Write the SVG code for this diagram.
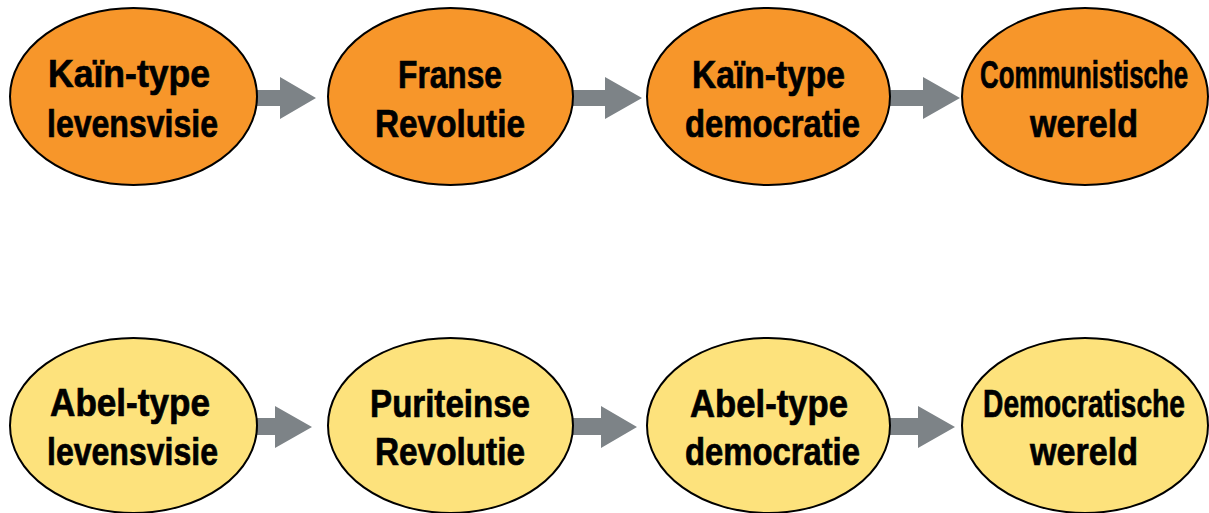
<svg xmlns="http://www.w3.org/2000/svg" width="1209" height="513" viewBox="0 0 1209 513">
<style>
.top{fill:#F7962A;stroke:#000;stroke-width:2}
.bot{fill:#FDE27C;stroke:#000;stroke-width:2}
.arr{fill:#7D8387}
text{font-family:"Liberation Sans",Arial,sans-serif;font-weight:bold;font-size:39px;fill:#000;stroke:#000;stroke-width:0.7;text-anchor:middle}
</style>
<rect width="1209" height="513" fill="#fff"/>
<g id="connectors">
<polygon class="arr" points="245,90 280,90 280,77 316,98 280,119 280,106 245,106"/>
<polygon class="arr" points="565,90 605,90 605,77 642,98 605,119 605,106 565,106"/>
<polygon class="arr" points="882,90 923,90 923,77 960,98 923,119 923,106 882,106"/>
<polygon class="arr" points="245,418 275,418 275,406 312,427 275,448 275,435 245,435"/>
<polygon class="arr" points="565,418 601,418 601,406 637,427 601,448 601,435 565,435"/>
<polygon class="arr" points="882,418 918,418 918,406 955,427 918,448 918,435 882,435"/>
</g>
<g id="n1"><ellipse class="top" cx="133.5" cy="96.5" rx="123.5" ry="88.5"/><text transform="translate(129,87) scale(0.912,1)">Kaïn-type</text><text transform="translate(132.5,137) scale(0.822,1)">levensvisie</text></g>
<g id="n2"><ellipse class="top" cx="450.5" cy="96.5" rx="122.5" ry="88.5"/><text transform="translate(450,88) scale(0.813,1)">Franse</text><text transform="translate(450,137) scale(0.855,1)">Revolutie</text></g>
<g id="n3"><ellipse class="top" cx="768.5" cy="96.5" rx="121.5" ry="88.5"/><text transform="translate(768.5,88) scale(0.861,1)">Kaïn-type</text><text transform="translate(772.5,137) scale(0.841,1)">democratie</text></g>
<g id="n4"><ellipse class="top" cx="1085" cy="96.5" rx="123" ry="88.5"/><text transform="translate(1084,88) scale(0.662,1)">Communistische</text><text transform="translate(1084,137) scale(0.874,1)">wereld</text></g>
<g id="n5"><ellipse class="bot" cx="133.5" cy="425.5" rx="123.5" ry="87.5"/><text transform="translate(130,416) scale(0.9,1)">Abel-type</text><text transform="translate(132.5,465) scale(0.822,1)">levensvisie</text></g>
<g id="n6"><ellipse class="bot" cx="450.5" cy="425.5" rx="122.5" ry="87.5"/><text transform="translate(450,417) scale(0.848,1)">Puriteinse</text><text transform="translate(450,465) scale(0.855,1)">Revolutie</text></g>
<g id="n7"><ellipse class="bot" cx="768.5" cy="425.5" rx="121.5" ry="87.5"/><text transform="translate(769,417) scale(0.889,1)">Abel-type</text><text transform="translate(772.5,465) scale(0.841,1)">democratie</text></g>
<g id="n8"><ellipse class="bot" cx="1085" cy="425.5" rx="123" ry="87.5"/><text transform="translate(1084,417) scale(0.722,1)">Democratische</text><text transform="translate(1084,465) scale(0.874,1)">wereld</text></g>
</svg>
